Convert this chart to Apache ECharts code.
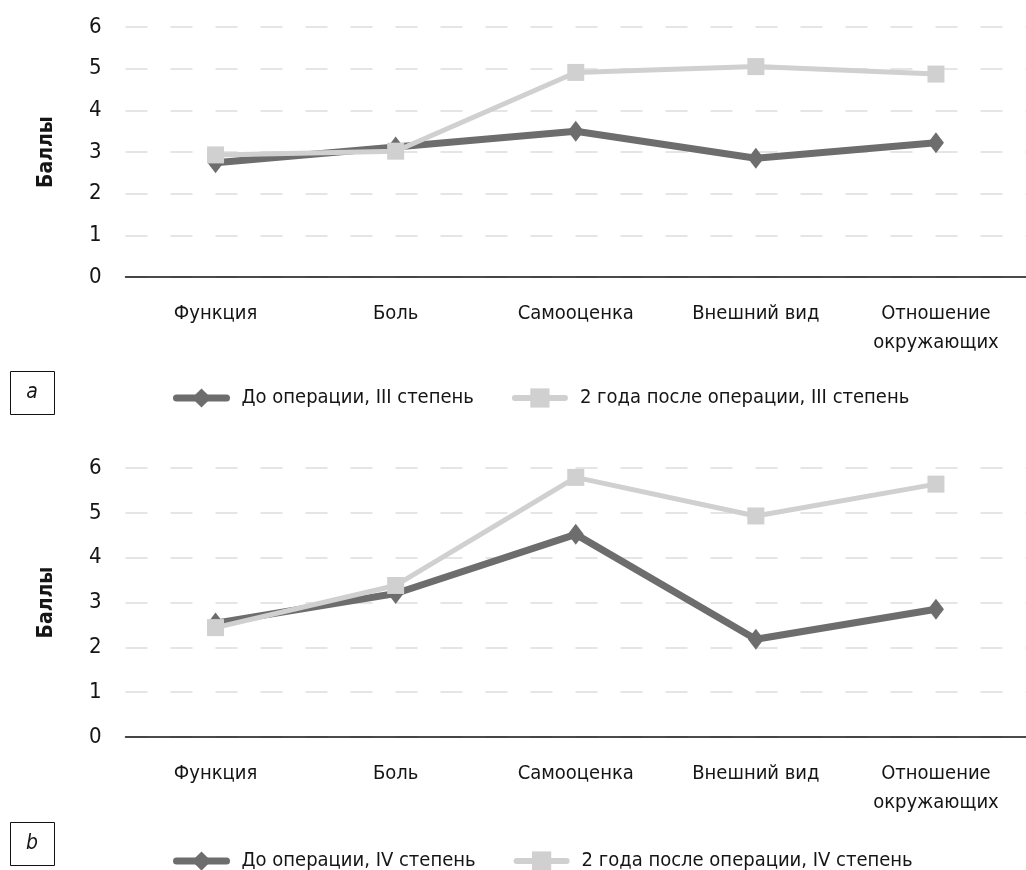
<!DOCTYPE html>
<html>
<head>
<meta charset="utf-8">
<script src="https://cdn.jsdelivr.net/npm/echarts@6/dist/echarts.min.js"></script>
<style>
html,body{margin:0;padding:0;background:#fff;}
#chart{width:1026px;height:870px;}
</style>
</head>
<body>
<div id="chart"></div>
<script>
const categories = ['Функция', 'Боль', 'Самооценка', 'Внешний вид', 'Отношение\nокружающих'];
const yTicks = [0, 1, 2, 3, 4, 5, 6];
const seriesNames = {
  aBefore: 'До операции, III степень',
  aAfter: '2 года после операции, III степень',
  bBefore: 'До операции, IV степень',
  bAfter: '2 года после операции, IV степень'
};
const aBefore = [2.74, 3.12, 3.50, 2.85, 3.22];
const aAfter  = [2.93, 3.02, 4.91, 5.05, 4.87];
const bBefore = [2.54, 3.20, 4.52, 2.18, 2.85];
const bAfter  = [2.44, 3.38, 5.79, 4.93, 5.64];
const panelLabels = ['a', 'b'];
const yName = 'Баллы';

const FONT = "'Liberation Sans Narrow','DejaVu Sans Condensed','Roboto Condensed',sans-serif";
const DARK = '#6d6d6d';
const LIGHT = '#d0d0d0';
const TXT = '#151515';

function xAxisCfg(idx) {
  return {
    type: 'category', gridIndex: idx, data: categories, boundaryGap: true,
    axisLine: { lineStyle: { color: '#111', width: 1.5 } },
    axisTick: { show: false },
    axisLabel: { color: TXT, fontSize: 20, fontFamily: FONT, margin: 22, lineHeight: 29, interval: 0 }
  };
}
function yAxisCfg(idx) {
  return {
    type: 'value', gridIndex: idx, min: yTicks[0], max: yTicks[yTicks.length - 1], interval: 1,
    name: yName, nameLocation: 'middle', nameRotate: 90, nameGap: 68,
    nameTextStyle: { color: TXT, fontSize: 21, fontWeight: 'bold', fontFamily: FONT },
    axisLine: { show: false }, axisTick: { show: false },
    axisLabel: { color: TXT, fontSize: 22, fontFamily: FONT, margin: 24 },
    splitLine: { lineStyle: { color: '#dddddd', width: 1.5, type: [22, 23] } }
  };
}
function lineSeries(name, data, idx, dark) {
  return {
    name: name, type: 'line', xAxisIndex: idx, yAxisIndex: idx, data: data,
    symbol: dark ? 'diamond' : 'rect',
    symbolSize: dark ? [16, 21] : 17,
    lineStyle: { color: dark ? DARK : LIGHT, width: dark ? 7 : 5 },
    itemStyle: { color: dark ? DARK : LIGHT },
    emphasis: { disabled: true },
    animation: false
  };
}
function legendCfg(top, names) {
  return {
    left: 168, top: top, itemWidth: 50, itemHeight: 24, itemGap: 38,
    data: [
      { name: names[0], lineStyle: { width: 7, cap: 'round' } },
      { name: names[1], lineStyle: { width: 6, cap: 'round' } }
    ],
    textStyle: { color: TXT, fontSize: 20, fontFamily: FONT, padding: [0, 0, 0, 10] }
  };
}
function boxGraphic(x, y, label) {
  return [
    { type: 'rect', left: x, top: y, shape: { width: 44, height: 43 },
      style: { fill: '#fff', stroke: '#111', lineWidth: 1 } },
    { type: 'text', x: x + 22, y: y + 21.5,
      style: { text: label, fontSize: 21, fontStyle: 'italic', fontFamily: FONT, fill: TXT,
               align: 'center', verticalAlign: 'middle' } }
  ];
}

const chart = echarts.init(document.getElementById('chart'), null, { renderer: 'canvas' });
chart.setOption({
  backgroundColor: '#fff',
  animation: false,
  grid: [
    { left: 125.5, width: 905, top: 27, height: 250 },
    { left: 125.5, width: 905, top: 468, height: 269 }
  ],
  xAxis: [xAxisCfg(0), xAxisCfg(1)],
  yAxis: [yAxisCfg(0), yAxisCfg(1)],
  legend: [
    legendCfg(383, [seriesNames.aBefore, seriesNames.aAfter]),
    legendCfg(846, [seriesNames.bBefore, seriesNames.bAfter])
  ],
  series: [
    lineSeries(seriesNames.aBefore, aBefore, 0, true),
    lineSeries(seriesNames.aAfter, aAfter, 0, false),
    lineSeries(seriesNames.bBefore, bBefore, 1, true),
    lineSeries(seriesNames.bAfter, bAfter, 1, false)
  ],
  graphic: [].concat(boxGraphic(10, 371, panelLabels[0]), boxGraphic(10, 822, panelLabels[1]))
});
</script>
</body>
</html>
